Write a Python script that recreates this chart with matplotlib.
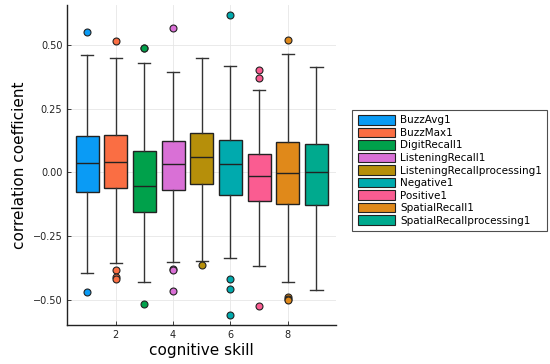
import matplotlib
matplotlib.use("Agg")
import matplotlib.pyplot as plt
from matplotlib.patches import Patch

labels = ["BuzzAvg1", "BuzzMax1", "DigitRecall1", "ListeningRecall1",
          "ListeningRecallprocessing1", "Negative1", "Positive1",
          "SpatialRecall1", "SpatialRecallprocessing1"]
colors = ["#0A9BF5", "#FA6E43", "#00A14B", "#D970D6", "#B68F0A",
          "#00AAAE", "#FA5C91", "#E0891A", "#00AA8E"]

q1 = [-0.078, -0.060, -0.155, -0.070, -0.047, -0.087, -0.112, -0.122, -0.128]
med = [0.039, 0.042, -0.052, 0.035, 0.061, 0.035, -0.013, -0.001, 0.003]
q3 = [0.142, 0.146, 0.086, 0.125, 0.154, 0.128, 0.073, 0.121, 0.112]
whislo = [-0.393, -0.354, -0.430, -0.350, -0.346, -0.335, -0.366, -0.430, -0.462]
whishi = [0.462, 0.449, 0.431, 0.392, 0.449, 0.419, 0.324, 0.464, 0.415]
fliers = [
    [0.551, -0.469],
    [0.514, -0.383, -0.408, -0.419],
    [0.486, 0.488, -0.516],
    [0.565, -0.378, -0.382, -0.466],
    [-0.361],
    [0.618, -0.418, -0.457, -0.559],
    [0.401, 0.370, -0.525],
    [0.518, -0.488, -0.495, -0.501],
    [],
]

fig = plt.figure(figsize=(5.5, 3.64), dpi=100)
ax = fig.add_axes([0.1224, 0.107, 0.489, 0.879])

for i in range(len(labels)):
    st = [dict(med=med[i], q1=q1[i], q3=q3[i], whislo=whislo[i],
               whishi=whishi[i], fliers=fliers[i])]
    ax.bxp(st, positions=[i + 1], widths=0.8, patch_artist=True,
           boxprops=dict(facecolor=colors[i], edgecolor="#222222", linewidth=1.0),
           medianprops=dict(color="#222222", linewidth=1.0),
           whiskerprops=dict(color="#333333", linewidth=1.0),
           capprops=dict(color="#333333", linewidth=1.0),
           capwidths=0.42,
           flierprops=dict(marker="o", markerfacecolor=colors[i],
                           markeredgecolor="#222222", markersize=5,
                           markeredgewidth=0.8, linestyle="none"),
           manage_ticks=False, zorder=3)

ax.set_xlim(0.31, 9.69)
ax.set_ylim(-0.598, 0.656)
ax.set_xticks([2, 4, 6, 8])
ax.set_xticklabels(["2", "4", "6", "8"])
ax.set_yticks([-0.5, -0.25, 0, 0.25, 0.5])
ax.set_yticklabels(["\u22120.50", "\u22120.25", "0.00", "0.25", "0.50"])
ax.tick_params(direction="in", length=3, labelsize=7, colors="#222222", width=0.6)
ax.grid(True, color="#e6e6e6", linewidth=0.6, zorder=0)
ax.set_axisbelow(True)
for s in ["top", "right"]:
    ax.spines[s].set_visible(False)
for s in ["left", "bottom"]:
    ax.spines[s].set_linewidth(1.0)
    ax.spines[s].set_color("#222222")
ax.set_xlabel("cognitive skill", fontsize=11, labelpad=2)
ax.set_ylabel("correlation coefficient", fontsize=11, labelpad=4)

handles = [Patch(facecolor=c, edgecolor="#222222", linewidth=0.8) for c in colors]
leg = fig.legend(handles, labels, loc="upper left",
                 bbox_to_anchor=(352.3 / 550, 1 - 110 / 364),
                 fontsize=7.5, frameon=True, fancybox=False,
                 edgecolor="#222222", handlelength=3.6, handleheight=1.0,
                 labelspacing=0.22, borderpad=0.5, handletextpad=0.5,
                 borderaxespad=0)
leg.get_frame().set_linewidth(0.8)

fig.savefig("out.png", dpi=100)
